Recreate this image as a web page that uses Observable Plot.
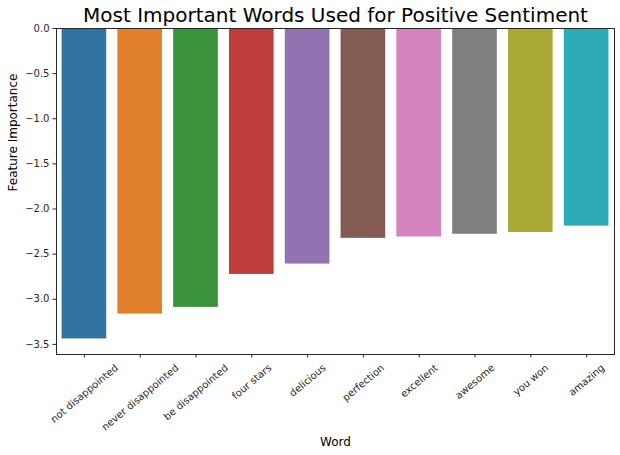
<!DOCTYPE html>
<html>
<head>
<meta charset="utf-8">
<script src="https://cdn.jsdelivr.net/npm/d3@7"></script>
<script src="https://cdn.jsdelivr.net/npm/@observablehq/plot@0.6"></script>
<style>
  body { margin: 0; background: #fff; }
  svg { font-family: "DejaVu Sans", sans-serif; }
</style>
</head>
<body>
<div id="chart"></div>
<script>
const words = ["not disappointed", "never disappointed", "be disappointed", "four stars", "delicious", "perfection", "excellent", "awesome", "you won", "amazing"];
const importance = [-3.44, -3.165, -3.09, -2.725, -2.61, -2.325, -2.31, -2.28, -2.26, -2.19];
const colors = ["#3274a1", "#e1812c", "#3a923a", "#c03d3e", "#9372b2", "#845b53", "#d684bd", "#7f7f7f", "#a9aa35", "#2eabb8"];
const yTicks = [0, -0.5, -1, -1.5, -2, -2.5, -3, -3.5];
const title = "Most Important Words Used for Positive Sentiment";
const xLabel = "Word";
const yLabel = "Feature Importance";

const data = words.map((w, i) => ({word: w, value: importance[i], color: colors[i]}));

// measure label widths to place rotated labels like matplotlib (bbox centered under tick)
const ctx = document.createElement("canvas").getContext("2d");
ctx.font = '10px "DejaVu Sans"';
const ang = 40 * Math.PI / 180;
const fh = 11.6;
const labelMarks = data.map(d => {
  const L = ctx.measureText(d.word).width;
  const h = L * Math.sin(ang) + fh * Math.cos(ang);
  return Plot.text([d], {
    x: "word", text: "word", frameAnchor: "bottom",
    rotate: -40, textAnchor: "middle", lineAnchor: "middle",
    dy: 7.5 + h / 2, fontSize: 10, fill: "#262626"
  });
});

const yMin = Math.min(...importance);
const chart = Plot.plot({
  width: 620,
  height: 455,
  marginTop: 28,
  marginLeft: 56,
  marginRight: 6,
  marginBottom: 101,
  style: {fontFamily: '"DejaVu Sans", sans-serif', background: "#fff"},
  x: {domain: words, paddingInner: 0.2, paddingOuter: 0.1, align: 0.5, round: false},
  y: {domain: [yMin * 1.05, 0]},
  marks: [
    Plot.barY(data, {x: "word", y: "value", fill: "color"}),
    Plot.axisY({ticks: yTicks, tickFormat: d3.format(".1f"), tickSize: 3.5, tickPadding: 3.5, fontSize: 10, label: null, color: "#262626"}),
    Plot.axisX({ticks: words, tickSize: 3.5, tickFormat: () => "", label: null, color: "#262626"}),
    ...labelMarks,
    Plot.frame({stroke: "#262626", strokeWidth: 1}),
    Plot.text([title], {frameAnchor: "top", dy: -6.5, lineAnchor: "bottom", fontSize: 20, fill: "#000"}),
    Plot.text([xLabel], {frameAnchor: "bottom", dy: 91, fontSize: 12, fill: "#000"}),
    Plot.text([yLabel], {frameAnchor: "left", dx: -43, rotate: -90, fontSize: 12, fill: "#000"})
  ]
});
document.getElementById("chart").appendChild(chart);
</script>
</body>
</html>
